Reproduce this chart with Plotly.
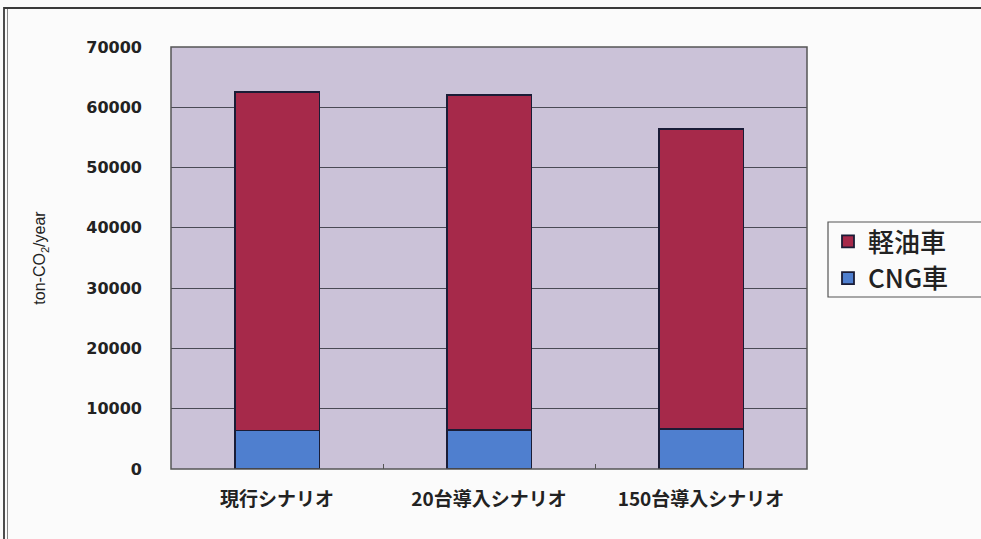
import plotly.graph_objects as go

scenarios = ["現行シナリオ", "20台導入シナリオ", "150台導入シナリオ"]
cng = [6400, 6500, 6600]
diesel = [56200, 55600, 49800]
y_ticks = [0, 10000, 20000, 30000, 40000, 50000, 60000, 70000]

W, H = 981, 539
L, R, T, B = 171, 174, 47, 70
pw, ph = W - L - R, H - T - B

def px_x(x):
    return (x - L) / pw

def px_y(y):
    return (H - B - y) / ph

fig = go.Figure()
fig.add_trace(go.Bar(
    x=scenarios, y=cng, name="CNG車",
    marker=dict(color="#4f7fcf", line=dict(color="#1a1c36", width=1.8)),
    width=0.4,
))
fig.add_trace(go.Bar(
    x=scenarios, y=diesel, name="軽油車",
    marker=dict(color="#a6294a", line=dict(color="#1a1c36", width=1.8)),
    width=0.4,
))

shapes = [
    # outer frame, running off the right and bottom edges of the page
    dict(type="rect", xref="paper", yref="paper", x0=px_x(4), x1=px_x(1040), y0=px_y(8), y1=px_y(600),
         line=dict(color="#3a3a3a", width=1.8), layer="below"),
    dict(type="line", xref="paper", yref="paper", x0=px_x(7.5), x1=px_x(7.5), y0=px_y(9), y1=px_y(600),
         line=dict(color="#888", width=1)),
    # plot-area frame
    dict(type="rect", xref="paper", yref="paper", x0=0, x1=1, y0=0, y1=1,
         line=dict(color="#555", width=1.5), layer="above"),
    # legend box
    dict(type="rect", xref="paper", yref="paper", x0=px_x(828), x1=px_x(1040), y0=px_y(222), y1=px_y(297),
         line=dict(color="#555", width=1.2), fillcolor="#fbfbfb", layer="below"),
]

fig.update_layout(
    width=W, height=H,
    margin=dict(l=L, r=R, t=T, b=B),
    barmode="stack",
    paper_bgcolor="#fbfbfb",
    plot_bgcolor="#cbc2d8",
    font=dict(family="Arial, Liberation Sans, sans-serif", color="#222"),
    shapes=shapes,
    legend=dict(
        traceorder="reversed",
        x=px_x(828), y=px_y(218), xanchor="left", yanchor="top",
        bgcolor="rgba(0,0,0,0)", borderwidth=0,
        font=dict(size=26, family="Noto Sans CJK JP, Arial, sans-serif", color="#222", weight=500),
        itemwidth=30,
    ),
    xaxis=dict(
        showgrid=False, ticks="inside", ticklen=5, tickcolor="#555", tickson="boundaries",
        tickfont=dict(size=19, family="Noto Sans CJK JP, sans-serif", color="#222", weight="bold"),
        ticklabelstandoff=17,
        showline=False,
        range=[-0.5, 2.5],
    ),
    yaxis=dict(
        range=[0, 70000], tickvals=y_ticks, ticktext=[str(v) for v in y_ticks],
        showgrid=True, gridcolor="#4a4a55", gridwidth=1,
        ticks="", ticklabelstandoff=28,
        tickfont=dict(size=16, family="DejaVu Sans, sans-serif", color="#222", weight="bold"),
        title=dict(text="ton-CO<sub>2</sub>/year", font=dict(size=16, color="#222"), standoff=36),
        zeroline=False,
    ),
    bargap=0.6,
)

fig.write_html("out.html", post_script="document.documentElement.style.overflow='hidden';document.body.style.overflow='hidden';")
